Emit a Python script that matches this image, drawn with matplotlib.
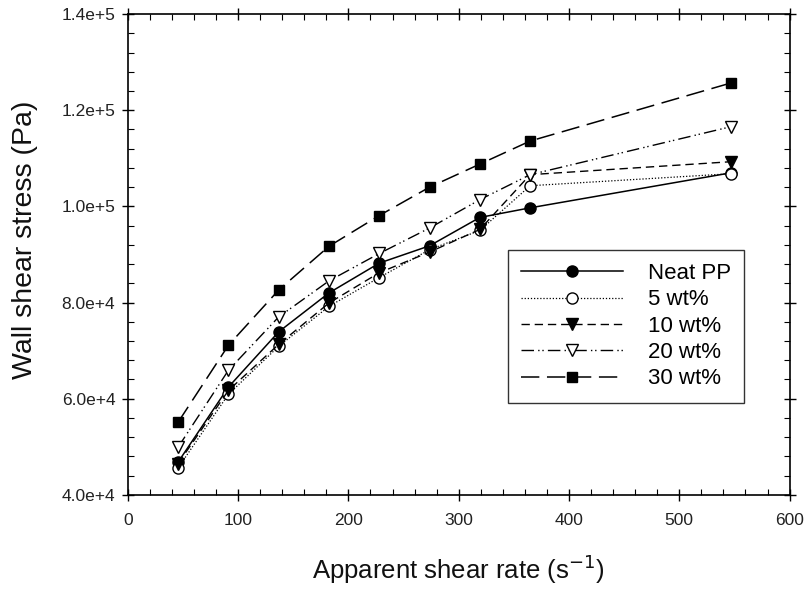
import matplotlib
matplotlib.use("Agg")
import matplotlib.pyplot as plt
from matplotlib.ticker import MultipleLocator, FuncFormatter

plt.rcParams['font.family'] = ['Liberation Sans', 'DejaVu Sans']

shear_rate = [45.6, 91.2, 136.8, 182.4, 228.0, 273.6, 319.2, 364.8, 547.2]
neat_pp = [46800, 62400, 73900, 82000, 88200, 91800, 97700, 99700, 107000]
wt5 = [45600, 60900, 70900, 79200, 85200, 91000, 95000, 104300, 106800]
wt10 = [46500, 61700, 71300, 79900, 86200, 90500, 95200, 106600, 109300]
wt20 = [49900, 65900, 77000, 84500, 90200, 95500, 101400, 106600, 116600]
wt30 = [55100, 71100, 82600, 91700, 98100, 104000, 108800, 113600, 125700]
labels = ["Neat PP", "5 wt%", "10 wt%", "20 wt%", "30 wt%"]

fig = plt.figure(figsize=(8.09, 5.89), dpi=100)
ax = fig.add_axes([0.158, 0.16, 0.818, 0.816])

ms = 8
ax.plot(shear_rate, neat_pp, color='black', lw=1.1, ls='-', marker='o', ms=ms,
        mfc='black', mec='black', label=labels[0])
ax.plot(shear_rate, wt5, color='black', lw=0.9, ls=(0, (1, 1.5)), marker='o', ms=ms,
        mfc='white', mec='black', label=labels[1])
ax.plot(shear_rate, wt10, color='black', lw=1.0, ls=(0, (6, 3.5)), marker='v', ms=ms,
        mfc='black', mec='black', label=labels[2])
ax.plot(shear_rate, wt20, color='black', lw=1.0, ls=(0, (9, 3, 1, 2, 1, 3)), marker='v', ms=ms,
        mfc='white', mec='black', label=labels[3])
ax.plot(shear_rate, wt30, color='black', lw=1.1, ls=(0, (12, 5)), marker='s', ms=ms - 1,
        mfc='black', mec='black', label=labels[4])

ax.set_xlim(0, 600)
ax.set_ylim(40000, 140000)
ax.xaxis.set_major_locator(MultipleLocator(100))
ax.xaxis.set_minor_locator(MultipleLocator(20))
ax.yaxis.set_major_locator(MultipleLocator(20000))
ax.yaxis.set_minor_locator(MultipleLocator(4000))

def yfmt(v, pos):
    s = f"{v:.1e}"
    mant, exp = s.split("e")
    return f"{mant}e+{int(exp)}"
ax.yaxis.set_major_formatter(FuncFormatter(yfmt))

ax.tick_params(which='major', direction='inout', length=8, width=1.0,
               top=True, right=True, labelsize=12.5, colors='black', labelcolor='#222222')
ax.tick_params(which='minor', direction='in', length=4, width=0.8, top=True, right=True)
ax.tick_params(axis='x', pad=9)
ax.tick_params(axis='y', pad=5)
for sp in ax.spines.values():
    sp.set_linewidth(1.2)

ax.set_xlabel("Apparent shear rate (s$^{-1}$)", fontsize=18.5, labelpad=18, color='#111111')
ax.set_ylabel("Wall shear stress (Pa)", fontsize=20.5, labelpad=9, color='#111111')
ax.yaxis.set_label_coords(-0.135, 0.53)

leg = ax.legend(loc='upper left', bbox_to_anchor=(0.574, 0.51), fontsize=16,
                frameon=True, fancybox=False, edgecolor='black', handlelength=4.6,
                handletextpad=1.1, borderpad=0.6, labelspacing=0.24, borderaxespad=0)
leg.get_frame().set_linewidth(1.0)

fig.savefig("out.png", dpi=100)
